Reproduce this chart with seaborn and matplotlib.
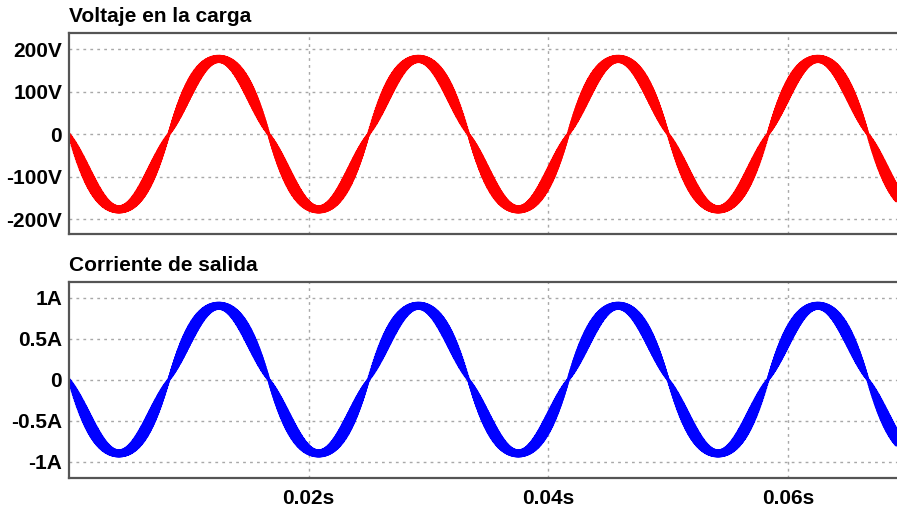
import numpy as np
import matplotlib
matplotlib.use("Agg")
import matplotlib.pyplot as plt
import seaborn as sns

sns.set_theme(style="white")
plt.rcParams["font.family"] = ["Liberation Sans", "DejaVu Sans"]

# Signal parameters of the simulated inverter output
line_freq = 60.0            # Hz
switch_freq = 12000.0       # Hz, PWM ripple frequency
mod_index = 0.93
v_amp = 177.0               # V peak
v_ripple = 175.0            # V, ripple scale
i_amp = 0.90                # A peak
i_ripple = 0.89             # A, ripple scale
t_end = 0.0691              # s

v_ticks = [-200, -100, 0, 100, 200]
v_tick_labels = ["-200V", "-100V", "0", "100V", "200V"]
i_ticks = [-1.0, -0.5, 0.0, 0.5, 1.0]
i_tick_labels = ["-1A", "-0.5A", "0", "0.5A", "1A"]
x_ticks = [0.02, 0.04, 0.06]
x_tick_labels = ["0.02s", "0.04s", "0.06s"]

t = np.linspace(0.0, t_end, 60000)
s = -np.sin(2 * np.pi * line_freq * t)
carrier = 2 * np.abs(2 * ((t * switch_freq) % 1.0) - 1) - 1
envelope = np.abs(s) * (1 - mod_index * np.abs(s))
voltage = v_amp * s + 0.5 * v_ripple * envelope * carrier
current = i_amp * s + 0.5 * i_ripple * envelope * carrier

W, H = 897, 507
fig = plt.figure(figsize=(W / 100, H / 100), dpi=100)
ax_v = fig.add_axes([69 / W, (H - 234) / H, 828 / W, 201 / H])
ax_i = fig.add_axes([69 / W, (H - 478) / H, 828 / W, 196 / H])

sns.lineplot(x=t, y=voltage, ax=ax_v, color="#ff0000", linewidth=2.4,
             estimator=None, sort=False)
sns.lineplot(x=t, y=current, ax=ax_i, color="#0000ff", linewidth=2.4,
             estimator=None, sort=False)

panels = [
    (ax_v, "Voltaje en la carga", (-235, 238), v_ticks, v_tick_labels),
    (ax_i, "Corriente de salida", (-1.20, 1.19), i_ticks, i_tick_labels),
]
for ax, title, ylim, yt, ytl in panels:
    ax.set_xlim(0, t_end)
    ax.set_ylim(*ylim)
    ax.set_yticks(yt)
    ax.set_yticklabels(ytl, fontsize=15, fontweight="bold", color="black")
    ax.set_xticks(x_ticks)
    ax.grid(True, color="#a8a8a8", linestyle=(0, (2, 3)), linewidth=1.0)
    ax.set_axisbelow(True)
    ax.tick_params(axis="both", length=0, pad=5)
    for side in ["left", "top", "bottom"]:
        ax.spines[side].set_visible(True)
        ax.spines[side].set_color("#555555")
        ax.spines[side].set_linewidth(1.6)
    ax.spines["right"].set_visible(False)
    ax.set_title(title, loc="left", fontsize=15, fontweight="bold",
                 color="black", pad=8)

ax_v.set_xticklabels([])
ax_i.set_xticklabels(x_tick_labels, fontsize=15, fontweight="bold", color="black")
ax_i.tick_params(axis="x", pad=8)

fig.savefig("out.png", dpi=100, facecolor="white")
